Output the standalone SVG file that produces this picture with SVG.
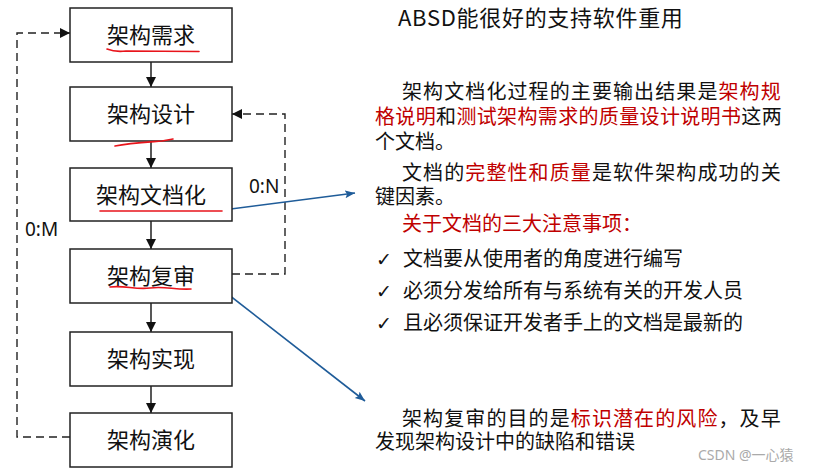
<svg xmlns="http://www.w3.org/2000/svg" width="813" height="471" viewBox="0 0 813 471">
<style>
.box{fill:#fff;stroke:#222;stroke-width:1.5}
.bt{font-family:"Noto Sans CJK SC","Noto Sans",sans-serif;font-size:22px;fill:#111;text-anchor:middle}
.t{font-family:"Noto Sans CJK SC","Noto Sans",sans-serif;font-size:20px;fill:#111}
.r{fill:#C00000}
.ck{font-family:"DejaVu Sans",sans-serif;font-size:19px;fill:#111}
.lbl{font-family:"Noto Sans","Noto Sans CJK SC",sans-serif;font-size:19px;fill:#111}
.flow{stroke:#111;stroke-width:1.4;fill:none}
.dash{stroke:#222;stroke-width:1.4;fill:none;stroke-dasharray:8 5}
.blue{stroke:#1F5C99;stroke-width:1.6;fill:none}
.ul{stroke:#E8141B;stroke-width:1.6;fill:none;stroke-linecap:round}
</style>
<defs>
<marker id="ah" markerWidth="12" markerHeight="12" refX="10" refY="5" orient="auto" markerUnits="userSpaceOnUse">
<path d="M0,0 L10,5 L0,10 Z" fill="#111"/>
</marker>
<marker id="bh" markerWidth="12" markerHeight="10" refX="10" refY="4" orient="auto" markerUnits="userSpaceOnUse">
<path d="M0,0 L10,4 L0,8 L2,4 Z" fill="#1F5C99"/>
</marker>
</defs>
<rect width="813" height="471" fill="#fff"/>

<g id="connectors">
<line class="flow" x1="151" y1="62" x2="151" y2="87" marker-end="url(#ah)"/>
<line class="flow" x1="151" y1="141" x2="151" y2="168" marker-end="url(#ah)"/>
<line class="flow" x1="151" y1="221" x2="151" y2="249" marker-end="url(#ah)"/>
<line class="flow" x1="151" y1="303" x2="151" y2="332" marker-end="url(#ah)"/>
<line class="flow" x1="151" y1="386" x2="151" y2="413" marker-end="url(#ah)"/>
<path class="dash" d="M70,437 H17 V33 H70" marker-end="url(#ah)"/>
<path class="dash" d="M232,274 H285 V114 H232" marker-end="url(#ah)"/>
<text class="lbl" x="25" y="236">0:M</text>
<text class="lbl" x="249" y="193">0:N</text>
<line class="blue" x1="223" y1="210" x2="355" y2="193" marker-end="url(#bh)"/>
<line class="blue" x1="211" y1="281" x2="365" y2="401" marker-end="url(#bh)"/>
</g>

<g id="n1"><rect class="box" x="70" y="8" width="162" height="54"/><text class="bt" x="151" y="43">架构需求</text></g>
<g id="n2"><rect class="box" x="70" y="87" width="162" height="54"/><text class="bt" x="151" y="122">架构设计</text></g>
<g id="n3"><rect class="box" x="70" y="168" width="162" height="53"/><text class="bt" x="151" y="203">架构文档化</text></g>
<g id="n4"><rect class="box" x="70" y="249" width="162" height="54"/><text class="bt" x="151" y="284">架构复审</text></g>
<g id="n5"><rect class="box" x="70" y="332" width="162" height="54"/><text class="bt" x="151" y="367">架构实现</text></g>
<g id="n6"><rect class="box" x="70" y="413" width="162" height="54"/><text class="bt" x="151" y="448">架构演化</text></g>

<g id="underlines">
<path class="ul" d="M107,49 C112,51 118,52 126,51 L199,51.5"/>
<path class="ul" d="M115,146 C130,143 150,142 162,141 L173,139"/>
<path class="ul" d="M100,211 L222,211"/>
<path class="ul" d="M110,287 C125,285 135,290 150,288 C165,286 175,290 191,289"/>
</g>

<g id="notes">
<text class="t" x="398" y="26" style="font-size:22px" letter-spacing="0.7">ABSD能很好的支持软件重用</text>
<text class="t" x="402" y="99" letter-spacing="1.1">架构文档化过程的主要输出结果是</text>
<text class="t r" x="718.5" y="99" letter-spacing="1.1">架构规</text>
<text class="t r" x="375" y="124" letter-spacing="0.35">格说明</text>
<text class="t" x="436" y="124">和</text>
<text class="t r" x="456.4" y="124" letter-spacing="0.35">测试架构需求的质量设计说明书</text>
<text class="t" x="741.3" y="124" letter-spacing="0.35">这两</text>
<text class="t" x="375" y="149">个文档。</text>
<text class="t" x="402" y="180" letter-spacing="1.1">文档的</text>
<text class="t r" x="465.3" y="180" letter-spacing="1.1">完整性和质量</text>
<text class="t" x="591.9" y="180" letter-spacing="1.1">是软件架构成功的关</text>
<text class="t" x="375" y="204">键因素。</text>
<text class="t r" x="402" y="231">关于文档的三大注意事项：</text>
<text class="ck" x="376" y="266">✓</text>
<text class="t" x="403" y="266">文档要从使用者的角度进行编写</text>
<text class="ck" x="376" y="298">✓</text>
<text class="t" x="403" y="298">必须分发给所有与系统有关的开发人员</text>
<text class="ck" x="376" y="330">✓</text>
<text class="t" x="403" y="330">且必须保证开发者手上的文档是最新的</text>
<text class="t" x="402" y="426" letter-spacing="1.1">架构复审的目的是</text>
<text class="t r" x="570.8" y="426" letter-spacing="1.1">标识潜在的风险</text>
<text class="t" x="718.5" y="426" letter-spacing="1.1">，及早</text>
<text class="t" x="375" y="449">发现架构设计中的缺陷和错误</text>
<text x="698" y="460" style="font-family:'Noto Sans','Noto Sans CJK SC',sans-serif;font-size:14px;fill:#aaa">CSDN @一心猿</text>
</g>
</svg>
